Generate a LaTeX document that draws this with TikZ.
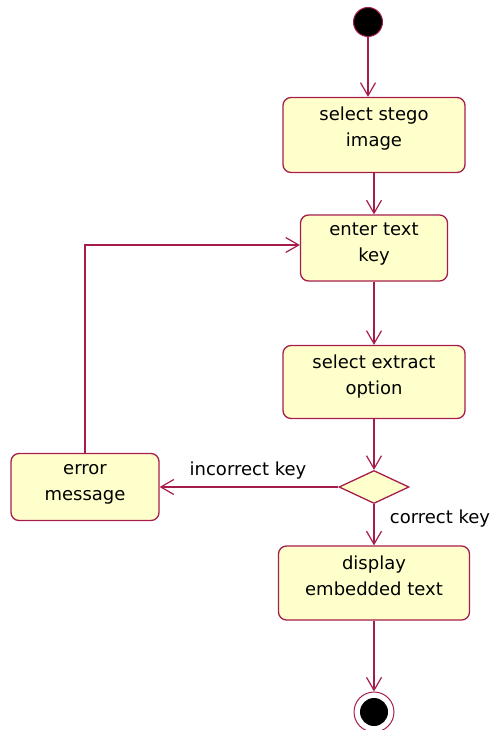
\documentclass[tikz,border=0pt]{standalone}
\usepackage{fontspec}
\setmainfont{DejaVu Sans}
\usetikzlibrary{shapes.geometric,arrows.meta}
\definecolor{umlline}{RGB}{165,30,75}
\definecolor{umlfill}{RGB}{255,255,204}
\begin{document}
\begin{tikzpicture}[x=1pt,y=-1pt,
  every node/.style={font=\fontsize{18}{26}\selectfont},
  act/.style={draw=umlline,fill=umlfill,line width=1.3pt,rounded corners=8pt,inner sep=0pt},
  txt/.style={align=center,inner sep=0pt},
  flow/.style={draw=umlline,line width=1.3pt,-{Straight Barb[length=13pt,width=15pt,line width=1.2pt]}},
  lbl/.style={inner sep=0pt,anchor=base}]
\useasboundingbox (0,0) rectangle (491,730);
\node[circle,fill=black,draw=umlline,line width=1pt,minimum size=29pt,inner sep=0pt] (start) at (368,22) {};
\node[act,minimum width=182pt,minimum height=75pt] (b1) at (374,135) {};
\node[txt] (t1) at (374,129) {select stego\\image};
\node[act,minimum width=147pt,minimum height=66pt] (b2) at (374,248) {};
\node[txt] (t2) at (374,244) {enter text\\key};
\node[act,minimum width=182pt,minimum height=73pt] (b3) at (374,382) {};
\node[txt] (t3) at (374,377) {select extract\\option};
\node[diamond,draw=umlline,fill=umlfill,line width=1.3pt,inner sep=0pt,minimum width=70pt,minimum height=33pt] (d) at (374,487) {};
\node[act,minimum width=148pt,minimum height=67pt] (err) at (85,487) {};
\node[txt] (t4) at (85,484) {error\\message};
\node[act,minimum width=191pt,minimum height=74pt] (b5) at (374,583) {};
\node[txt] (t5) at (374,576) {display\\embedded text};
\node[circle,draw=umlline,line width=1pt,fill=white,minimum size=40pt,inner sep=0pt] (endo) at (374,712) {};
\node[circle,fill=black,minimum size=28pt,inner sep=0pt] (endi) at (endo) {};
\coordinate (c1) at (85,245);
\draw[flow] (start) -- (start |- b1.north);
\draw[flow] (b1.south) -- (b2.north);
\draw[flow] (b2.south) -- (b3.north);
\draw[flow] (b3.south) -- (d.north);
\draw[flow] (d.west) -- (err.east);
\draw[flow] (d.south) -- (b5.north);
\draw[flow] (err.north) -- (c1) -- (c1 -| b2.west);
\draw[flow] (b5.south) -- (endo.north);
\node[lbl] (l1) at (248,475) {incorrect key};
\node[lbl] (l2) at (440,523) {correct key};
\end{tikzpicture}
\end{document}
